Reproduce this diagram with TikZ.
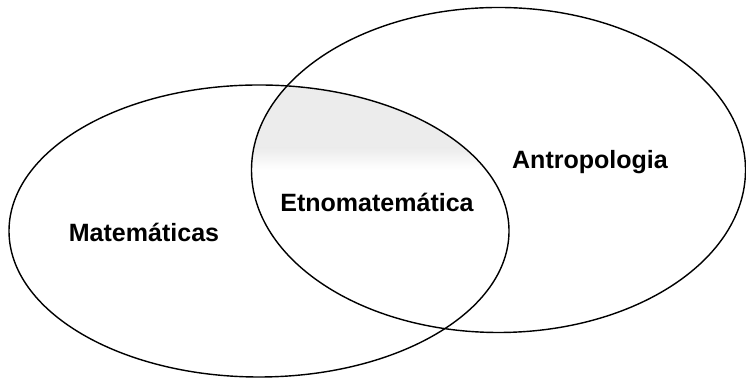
\documentclass[tikz,border=0pt]{standalone}
\usepackage{fontspec}
\setmainfont{Liberation Sans}
\usetikzlibrary{shapes.geometric}

\begin{document}
\begin{tikzpicture}
        \tikzset{set/.style={draw,ellipse,line width=1pt,inner sep=0pt},
            area label/.style={font=\fontsize{17.8}{20}\selectfont\bfseries}}
        \useasboundingbox (0,0) rectangle (18.65,9.45);
        % shaded top of the overlap
        \begin{scope}
                \clip (6.475,3.675) ellipse [x radius=6.25, y radius=3.65];
                \clip (12.4625,5.2) ellipse [x radius=6.175, y radius=4.0625];
                \fill[gray!15] (6,5.75) rectangle (13,9.45);
                \shade[top color=gray!15, bottom color=white] (6,5.2) rectangle (13,5.75);
        \end{scope}
        \node[set, minimum width=12.5cm, minimum height=7.3cm] (mat) at (6.475,3.675) {};
        \node[set, minimum width=12.35cm, minimum height=8.125cm] (antro) at (12.4625,5.2) {};
        \node[area label] (matlabel) at (3.6,3.65) {Matemáticas};
        \node[area label] (etnolabel) at (9.425,4.4) {Etnomatemática};
        \node[area label] (antrolabel) at (14.75,5.4) {Antropologia};
    \end{tikzpicture}
\end{document}
